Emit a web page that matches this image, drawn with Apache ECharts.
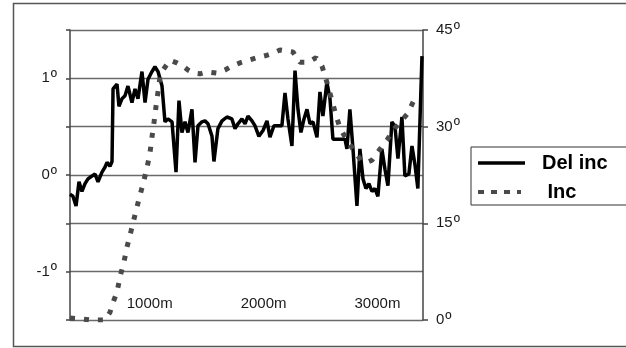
<!DOCTYPE html>
<html>
<head>
<meta charset="utf-8">
<script src="https://cdn.jsdelivr.net/npm/echarts@6/dist/echarts.min.js"></script>
<style>
html,body{margin:0;padding:0;background:#fff;}
#c{width:626px;height:348px;}
</style>
</head>
<body>
<div id="c"></div>
<script>
// ---- data ----
const xLabels = [1000, 2000, 3000];
const leftLabels = [-1, 0, 1];
const rightLabels = [0, 15, 30, 45];

const depthDel = [300,326,353,379,405,432,458,493,520,546,581,607,625,651,669,678,713,730,757,783,809,844,871,897,932,959,985,1020,1046,1073,1108,1134,1160,1196,1231,1257,1283,1310,1336,1371,1398,1424,1459,1485,1512,1547,1564,1599,1635,1678,1722,1749,1775,1810,1837,1863,1898,1924,1959,1995,2030,2056,2091,2126,2161,2188,2214,2249,2276,2302,2328,2355,2381,2407,2434,2469,2495,2521,2556,2583,2609,2653,2715,2732,2758,2785,2820,2846,2873,2899,2925,2952,2978,3004,3039,3066,3092,3127,3154,3180,3215,3241,3276,3303,3329,3355,3391];
const delInc = [-0.20,-0.22,-0.32,-0.07,-0.17,-0.09,-0.04,-0.01,0.01,-0.07,0.03,0.08,0.13,0.09,0.14,0.89,0.94,0.71,0.79,0.82,0.92,0.75,0.89,0.79,1.07,0.75,0.99,1.07,1.12,1.07,0.92,0.55,0.58,0.55,0.03,0.77,0.44,0.55,0.44,0.68,0.13,0.51,0.55,0.56,0.53,0.40,0.14,0.48,0.56,0.60,0.58,0.48,0.53,0.58,0.53,0.61,0.56,0.51,0.40,0.46,0.56,0.39,0.51,0.51,0.51,0.85,0.58,0.30,1.08,0.68,0.44,0.58,0.68,0.53,0.55,0.39,0.86,0.61,0.96,0.79,0.37,0.37,0.37,0.27,0.68,0.27,-0.32,0.27,-0.04,-0.14,-0.09,-0.17,-0.14,-0.22,0.27,0.06,-0.11,0.55,0.50,0.17,0.60,-0.01,0.01,0.30,0.11,-0.14,1.23];

const depthInc = [300,388,476,563,607,651,686,713,739,774,800,836,871,906,941,976,1002,1020,1038,1055,1073,1090,1117,1178,1239,1292,1336,1389,1441,1503,1591,1661,1722,1793,1863,1942,2012,2082,2144,2214,2258,2319,2390,2460,2513,2556,2600,2635,2671,2732,2802,2855,2899,2952,3004,3083,3154,3215,3268,3312,3338];
const inc = [0.3,0.2,0,0,0,1.2,3.1,4.3,6.7,9.0,11.3,13.8,16.3,18.8,21.1,23.6,25.9,28.4,30.7,33.1,35.4,37.7,38.8,40.3,39.9,39.4,38.8,38.3,38.2,38.5,38.3,38.8,39.4,39.9,40.3,40.7,41.0,41.4,41.9,41.7,41.6,40.0,40.0,40.7,39.4,36.9,34.1,31.8,29.8,27.9,26.1,24.8,24.4,24.8,26.1,27.9,29.8,31.0,32.1,33.8,34.8];

const chart = echarts.init(document.getElementById('c'), null, {renderer: 'canvas'});
const FONT = '"Liberation Sans", Arial, sans-serif';
const degRich = {
  n: {fontFamily: FONT, fontSize: 15, color: '#1a1a1a'},
  s: {fontFamily: FONT, fontSize: 17, color: '#1a1a1a', padding: [0, 0, 0, 1]}
};

chart.setOption({
  animation: false,
  backgroundColor: '#fff',
  grid: {left: 70, right: 203, top: 30, bottom: 28, containLabel: false},
  graphic: [{
    type: 'rect', silent: true,
    shape: {x: 13.5, y: 3.5, width: 640, height: 343},
    style: {fill: 'none', stroke: '#555', lineWidth: 1.5}
  }],
  legend: {
    orient: 'vertical',
    left: 471, top: 147,
    padding: [5, 60, 2, 7],
    itemWidth: 47, itemHeight: 14, itemGap: 7,
    borderColor: '#333', borderWidth: 1,
    backgroundColor: '#fff',
    data: [
      {name: 'Del inc', icon: 'path://M0,0H47V3.5H0Z'},
      {name: 'Inc', icon: 'path://M0,0h6v4h-6z M13,0h6v4h-6z M26,0h6v4h-6z M39,0h4v4h-4z M47,0h0.01v4h-0.01z'}
    ],
    formatter: n => n === 'Inc' ? ' Inc' : n,
    textStyle: {fontFamily: FONT, fontSize: 20, fontWeight: 'bold', color: '#000', lineHeight: 22, padding: [0, 0, 0, 12]}
  },
  xAxis: {
    type: 'value', min: 300, max: 3400,
    axisLine: {show: false},
    axisTick: {show: false},
    splitLine: {show: false},
    axisLabel: {
      inside: true, margin: 9,
      customValues: xLabels,
      formatter: v => v + 'm',
      fontFamily: FONT, fontSize: 15, color: '#1a1a1a'
    }
  },
  yAxis: [{
    type: 'value', min: -1.5, max: 1.5, interval: 0.5,
    position: 'left',
    axisLine: {show: true, lineStyle: {color: '#444', width: 1.5}},
    axisTick: {show: true, length: 4, lineStyle: {color: '#444', width: 1.5}},
    splitLine: {show: true, lineStyle: {color: '#6a6a6a', width: 1.3}},
    axisLabel: {
      margin: 13,
      formatter: v => leftLabels.includes(v) ? '{n|' + v + '}{s|º}' : '',
      rich: degRich
    }
  }, {
    type: 'value', min: 0, max: 45, interval: 15,
    position: 'right',
    axisLine: {show: true, lineStyle: {color: '#444', width: 1.5}},
    axisTick: {show: true, length: 5, lineStyle: {color: '#444', width: 1.5}},
    splitLine: {show: false},
    axisLabel: {
      margin: 13,
      formatter: v => rightLabels.includes(v) ? '{n|' + v + '}{s|º}' : '',
      rich: degRich
    }
  }],
  series: [{
    name: 'Del inc', type: 'line', yAxisIndex: 0,
    symbol: 'none', showSymbol: false,
    data: depthDel.map((d, i) => [d, delInc[i]]),
    lineStyle: {color: '#000', width: 3.5},
    itemStyle: {color: '#000'},
    z: 3
  }, {
    name: 'Inc', type: 'line', yAxisIndex: 1,
    symbol: 'none', showSymbol: false,
    data: depthInc.map((d, i) => [d, inc[i]]),
    lineStyle: {color: '#4a4a4a', width: 5, type: [5, 9]},
    itemStyle: {color: '#4a4a4a'},
    z: 4
  }]
});
</script>
</body>
</html>
